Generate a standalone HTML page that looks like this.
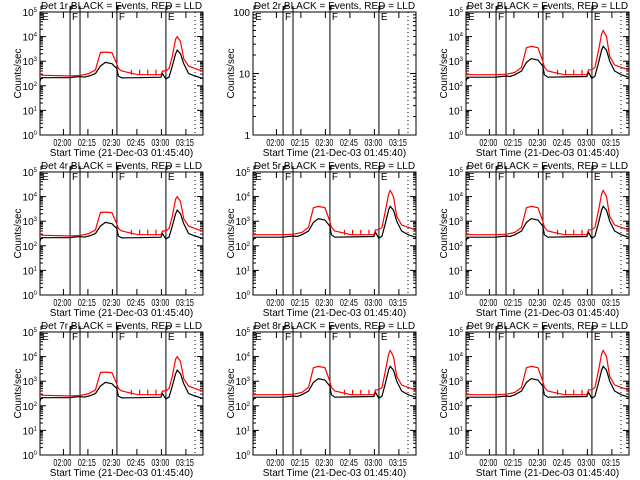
<!DOCTYPE html>
<html><head><meta charset="utf-8"><style>
body{margin:0;background:#fff;width:640px;height:480px;overflow:hidden}
svg{display:block}
text{font-family:"Liberation Sans",sans-serif;font-size:10px;fill:#000}
</style></head><body>
<svg id="chart" width="640" height="480"></svg>
<script>
// time in minutes from 01:45:40
const times = [0,1,18,24.5,27,30,34,37,40,44,47,48,50,60,74,75,77,79,81,83,84,86,88,91,95,99.5];
const blackA = [2.2,2.33,2.33,2.38,2.35,2.4,2.5,2.8,2.95,2.9,2.7,2.4,2.32,2.33,2.35,2.5,2.28,2.35,2.8,3.3,3.45,3.3,2.9,2.5,2.4,2.3];
const redA   = [2.5,2.43,2.4,2.42,2.45,2.5,2.65,3.35,3.37,3.35,2.9,2.7,2.6,2.45,2.45,2.6,2.6,2.7,3.2,3.9,4.0,3.8,3.1,2.8,2.7,2.6];
const blackB = [2.2,2.35,2.35,2.4,2.38,2.45,2.6,2.95,3.1,3.05,2.8,2.45,2.35,2.36,2.38,2.55,2.3,2.4,2.9,3.45,3.6,3.45,3.0,2.6,2.45,2.35];
const redB   = [2.55,2.45,2.45,2.47,2.5,2.55,2.75,3.55,3.6,3.55,3.0,2.75,2.6,2.45,2.45,2.65,2.65,2.75,3.4,4.1,4.25,4.0,3.2,2.85,2.75,2.65];
const spikeTimes = [56,61,66,71];
const spikeValA = [2.65,2.65,2.65,2.65];
const lineTimes = [18.4,24.5,47.1,77.1];
const labelTimes = [0,18.4,47.1,77.1];
const labelTexts = ["E","F","F","E"];
const dottedTime = 94.9;
const dets = [1,2,3,4,5,6,7,8,9];
const tickLabels = ["02:00","02:15","02:30","02:45","03:00","03:15"];
const tickTimes = [14.33,29.33,44.33,59.33,74.33,89.33];
const T_MAX = 99.8;

const svg = document.getElementById('chart');
const NS = 'http://www.w3.org/2000/svg';
function mk(tag, attrs, parent){const e=document.createElementNS(NS,tag);for(const k in attrs)e.setAttribute(k,attrs[k]);parent.appendChild(e);return e;}

dets.forEach((d,i)=>{
  const ox = (i%3)*213, oy = Math.floor(i/3)*160;
  const L = ox+40, R = ox+203, T = oy+12, B = oy+135;
  const g = mk('g',{},svg);
  
  
  const empty = d===2;
  const yMin = 0, yMax = empty?2:5;
  const xs = t => L + (t/T_MAX)*(R-L);
  const ys = v => B - (v-yMin)/(yMax-yMin)*(B-T);
  const fr = mk('rect',{x:L,y:T,width:R-L,height:B-T,fill:'none',stroke:'#000','stroke-width':1},g);
  
  
  for(let p=yMin;p<=yMax;p++){
    const y=ys(p);
    mk('line',{x1:L,x2:L+6,y1:y,y2:y,stroke:'#000'},g);
    mk('line',{x1:R-6,x2:R,y1:y,y2:y,stroke:'#000'},g);
    const lab = mk('text',{x:L-3,y:y+4,'text-anchor':'end','font-size':'9px'},g);
    
    
    if(empty){lab.textContent=String(Math.pow(10,p));}
    else{lab.textContent='10';const s=mk('tspan',{dy:-4,'font-size':'6px'},lab);s.textContent=String(p);}
    if(p<yMax){for(let m=2;m<10;m++){const yy=ys(p+Math.log10(m));
      mk('line',{x1:L,x2:L+3,y1:yy,y2:yy,stroke:'#000'},g);
      mk('line',{x1:R-3,x2:R,y1:yy,y2:yy,stroke:'#000'},g);}}
  }
  tickTimes.forEach((t,k)=>{
    const x=xs(t);
    mk('line',{x1:x,x2:x,y1:B,y2:B-6,stroke:'#000'},g);
    mk('line',{x1:x,x2:x,y1:T,y2:T+6,stroke:'#000'},g);
    const lab=mk('text',{x:x-1,y:B+11,'text-anchor':'middle','font-size':'9px',textLength:18,lengthAdjust:'spacingAndGlyphs'},g);
    
    
    lab.textContent=tickLabels[k];
  });
  lineTimes.forEach((t,k)=>{
    const x=xs(t);
    const ln=mk('line',{x1:x,x2:x,y1:T-6,y2:B,stroke:'#000'},g);
    
    
  });
  labelTimes.forEach((t,k)=>{
    const x=xs(t)+1;
    mk('line',{x1:x,x2:x+5,y1:T-6,y2:T-6,stroke:'#000'},g);
    mk('line',{x1:x,x2:x,y1:T-6,y2:T-2,stroke:'#000'},g);
    const lab=mk('text',{x:x+1,y:T+8,'font-size':'10px'},g);
    
    
    lab.textContent=labelTexts[k];
  });
  const dl=mk('line',{x1:xs(dottedTime),x2:xs(dottedTime),y1:T,y2:B,stroke:'#000','stroke-dasharray':'1,3'},g);
  
  
  if(!empty){
    const groupB = [3,5,6,8,9].includes(d);
    const bl = groupB?blackB:blackA, rd = groupB?redB:redA;
    const pb = times.map((t,k)=>xs(t).toFixed(1)+','+ys(bl[k]).toFixed(1)).join(' ');
    const bp=mk('polyline',{points:pb,fill:'none',stroke:'#000','stroke-width':1.2},g);
    
    
    const pr = times.map((t,k)=>xs(t).toFixed(1)+','+ys(rd[k]).toFixed(1)).join(' ');
    const rp=mk('polyline',{points:pr,fill:'none',stroke:'#f00','stroke-width':1.2},g);
    
    
    spikeTimes.forEach((t,k)=>{
      const sp=mk('line',{x1:xs(t),x2:xs(t),y1:ys(rd[13]),y2:ys(spikeValA[k]),stroke:'#f00','stroke-width':1.2},g);
      
      
    });
  }
  const title=mk('text',{x:(L+R)/2,y:oy+9,'text-anchor':'middle'},g);
  
  
  title.textContent='Det '+d+'r BLACK = Events, RED = LLD';
  const xl=mk('text',{x:(L+R)/2,y:B+21,'text-anchor':'middle'},g);
  
  
  xl.textContent='Start Time (21-Dec-03 01:45:40)';
  const yl=mk('text',{x:0,y:0,'text-anchor':'middle','font-size':'9px',transform:'translate('+(ox+21)+','+((T+B)/2)+') rotate(-90)'},g);
  
  
  yl.textContent='Counts/sec';
});
</script>
</body></html>
